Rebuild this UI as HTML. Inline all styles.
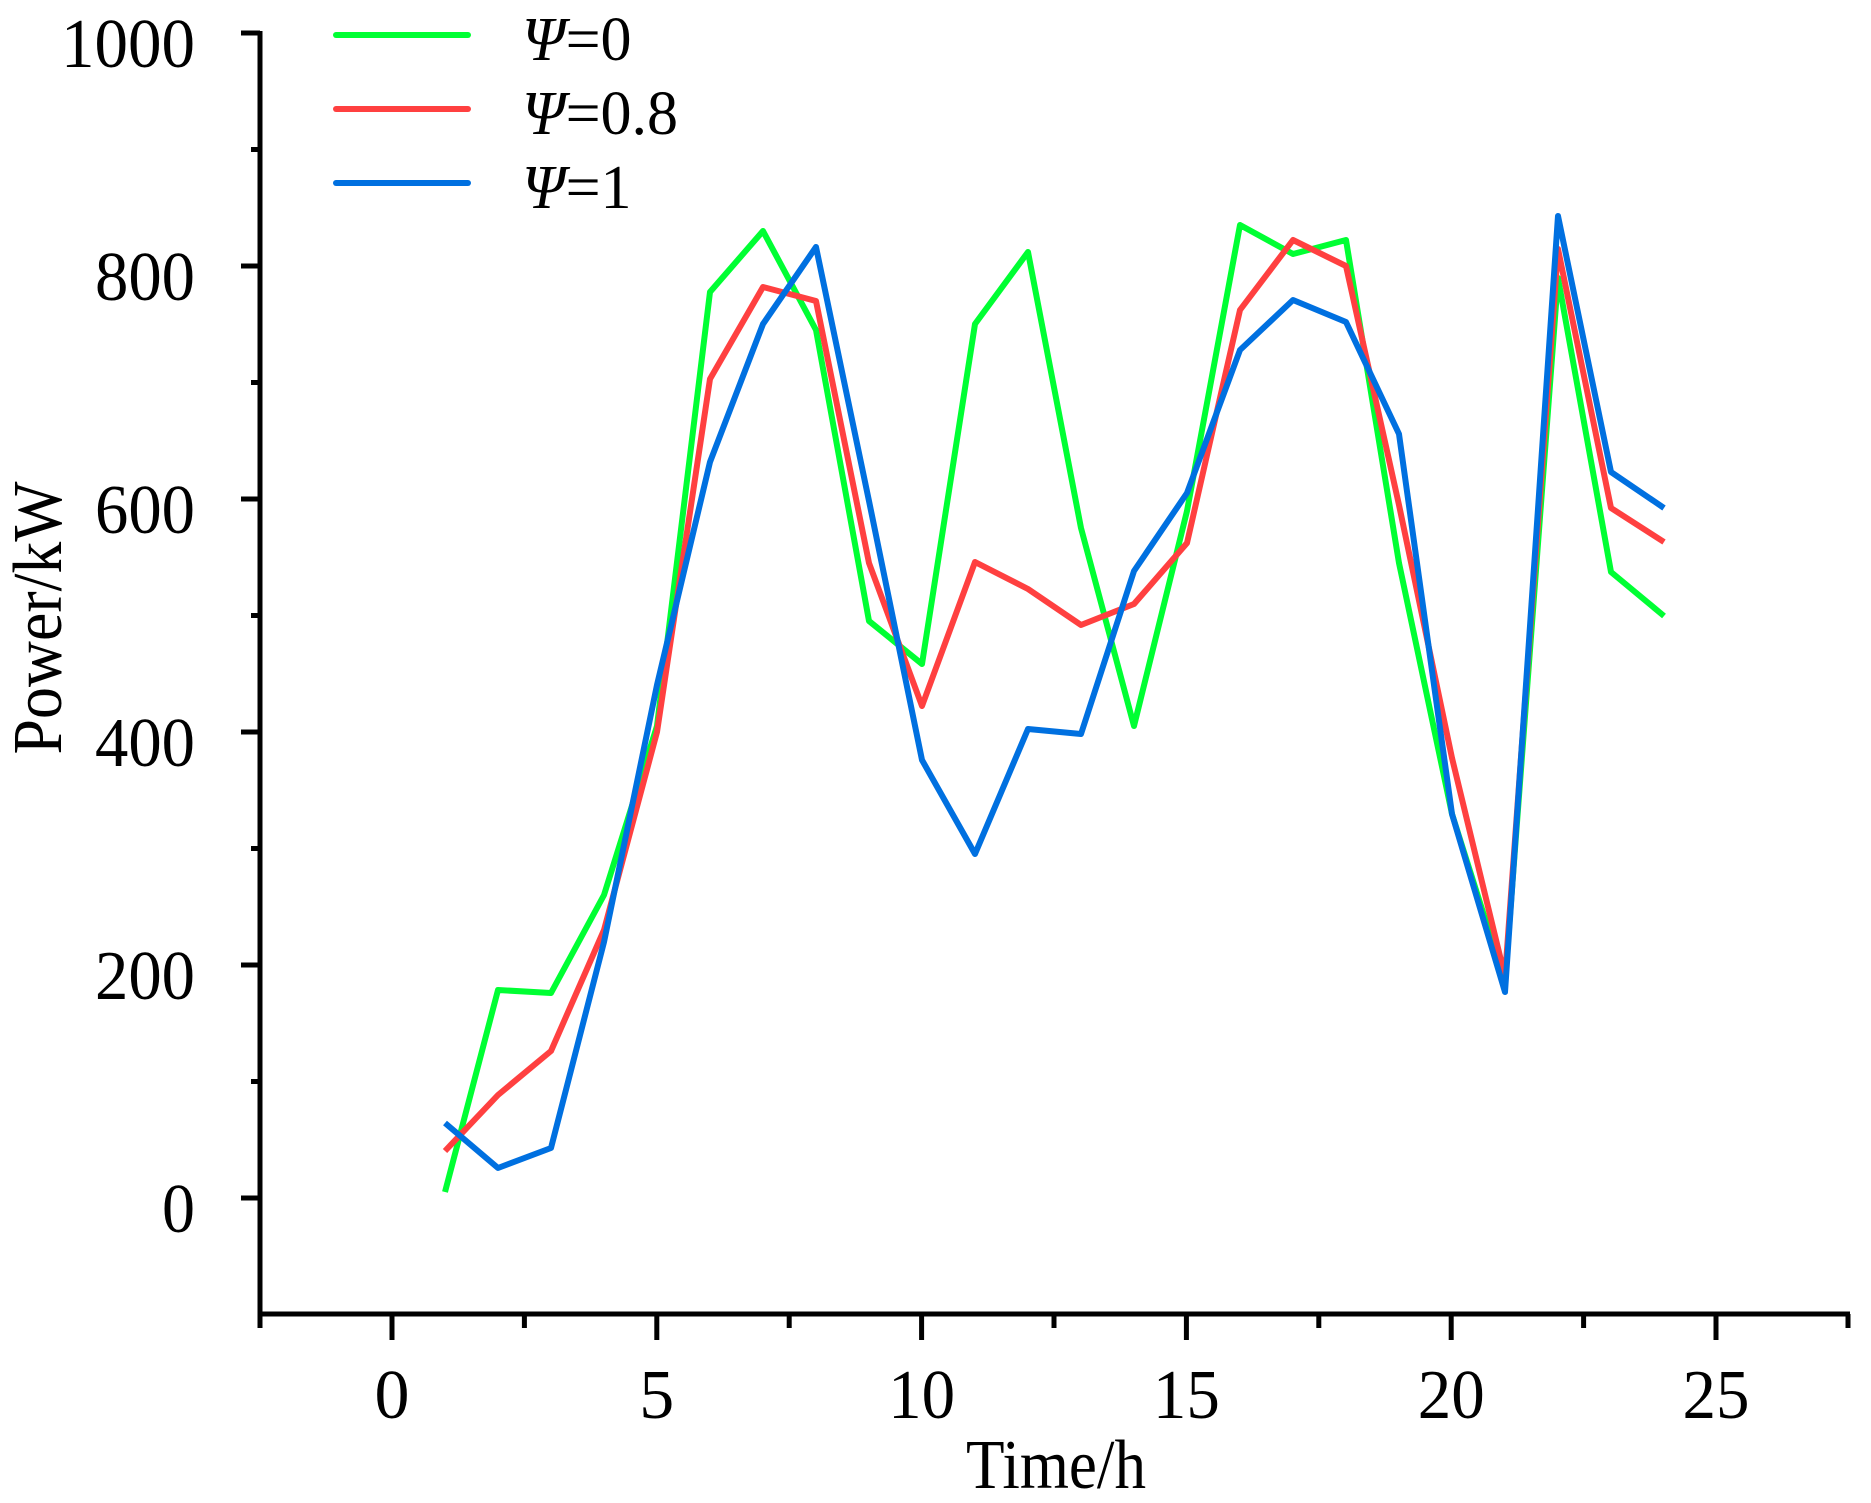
<!DOCTYPE html>
<html><head><meta charset="utf-8"><style>html,body{margin:0;padding:0;background:#fff}svg{display:block}svg text{font-family:"Liberation Serif","Times New Roman",serif}</style></head>
<body>
<svg width="1871" height="1503" viewBox="0 0 1871 1503" xmlns="http://www.w3.org/2000/svg">
<rect width="1871" height="1503" fill="#fff"/>
<g stroke="#000" stroke-width="5" fill="none">
<line x1="260" y1="31" x2="260" y2="1316"/>
<line x1="258" y1="1314" x2="1850" y2="1314"/>
<line x1="241" y1="33" x2="260" y2="33"/><line x1="251" y1="149.5" x2="260" y2="149.5"/>
<line x1="241" y1="266" x2="260" y2="266"/><line x1="251" y1="382.5" x2="260" y2="382.5"/>
<line x1="241" y1="499" x2="260" y2="499"/><line x1="251" y1="615.5" x2="260" y2="615.5"/>
<line x1="241" y1="732" x2="260" y2="732"/><line x1="251" y1="848.5" x2="260" y2="848.5"/>
<line x1="241" y1="965" x2="260" y2="965"/><line x1="251" y1="1081.5" x2="260" y2="1081.5"/>
<line x1="241" y1="1198" x2="260" y2="1198"/>
<line x1="260" y1="1314" x2="260" y2="1328"/>
<line x1="392" y1="1314" x2="392" y2="1340"/><line x1="524.4" y1="1314" x2="524.4" y2="1328"/>
<line x1="656.8" y1="1314" x2="656.8" y2="1340"/><line x1="789.2" y1="1314" x2="789.2" y2="1328"/>
<line x1="921.6" y1="1314" x2="921.6" y2="1340"/><line x1="1054" y1="1314" x2="1054" y2="1328"/>
<line x1="1186.4" y1="1314" x2="1186.4" y2="1340"/><line x1="1318.8" y1="1314" x2="1318.8" y2="1328"/>
<line x1="1451.2" y1="1314" x2="1451.2" y2="1340"/><line x1="1583.6" y1="1314" x2="1583.6" y2="1328"/>
<line x1="1716" y1="1314" x2="1716" y2="1340"/><line x1="1848" y1="1314" x2="1848" y2="1328"/>
</g>
<g font-size="70" text-anchor="end" fill="#000">
<text x="195" y="67" textLength="134" lengthAdjust="spacingAndGlyphs">1000</text>
<text x="195" y="300" textLength="100" lengthAdjust="spacingAndGlyphs">800</text>
<text x="195" y="533" textLength="100" lengthAdjust="spacingAndGlyphs">600</text>
<text x="195" y="766" textLength="100" lengthAdjust="spacingAndGlyphs">400</text>
<text x="195" y="999" textLength="100" lengthAdjust="spacingAndGlyphs">200</text>
<text x="195" y="1232" textLength="33" lengthAdjust="spacingAndGlyphs">0</text>
</g>
<g font-size="70" text-anchor="middle" fill="#000">
<text x="392" y="1418">0</text>
<text x="656.8" y="1418">5</text>
<text x="921.6" y="1418" textLength="67" lengthAdjust="spacingAndGlyphs">10</text>
<text x="1186.4" y="1418" textLength="67" lengthAdjust="spacingAndGlyphs">15</text>
<text x="1451.2" y="1418" textLength="67" lengthAdjust="spacingAndGlyphs">20</text>
<text x="1716" y="1418" textLength="67" lengthAdjust="spacingAndGlyphs">25</text>
<text x="1056" y="1488" textLength="180" lengthAdjust="spacingAndGlyphs">Time/h</text>
<text transform="translate(61,618) rotate(-90)" textLength="273" lengthAdjust="spacingAndGlyphs">Power/kW</text>
</g>
<g stroke-width="6" stroke-linecap="round">
<line x1="336" y1="35" x2="468" y2="35" stroke="#00ff33"/>
<line x1="336" y1="109" x2="468" y2="109" stroke="#ff4040"/>
<line x1="336" y1="183" x2="468" y2="183" stroke="#0070e0"/>
</g>
<g font-size="62" fill="#000">
<text x="522" y="60"><tspan font-style="italic">Ψ</tspan>=0</text>
<text x="522" y="134"><tspan font-style="italic">Ψ</tspan>=0.8</text>
<text x="522" y="208"><tspan font-style="italic">Ψ</tspan>=1</text>
</g>
<g fill="none" stroke-width="6" stroke-linejoin="round">
<polyline stroke="#00ff33" points="445,1192 498,990 551,993 604,895 657,726 710,292 763,231 816,330 869,621 922,664 975,324 1028,252 1081,528 1134,726 1187,511 1240,225 1293,254 1346,240 1399,563 1452,814 1505,982 1558,278 1611,572 1664,616"/>
<polyline stroke="#ff4040" points="445,1151 498,1095 551,1051 604,930 657,732 710,379 763,287 816,301 869,563 922,706 975,562 1028,589 1081,625 1134,604 1187,543 1240,310 1293,240 1346,266 1399,505 1452,758 1505,977 1558,249 1611,508 1664,542"/>
<polyline stroke="#0070e0" points="445,1123 498,1168 551,1148 604,942 657,685 710,462 763,324 816,247 869,501 922,760 975,854 1028,729 1081,734 1134,571 1187,493 1240,350 1293,300 1346,322 1399,434 1452,814 1505,992 1558,216 1611,472 1664,508"/>
</g>
</svg>
</body></html>
